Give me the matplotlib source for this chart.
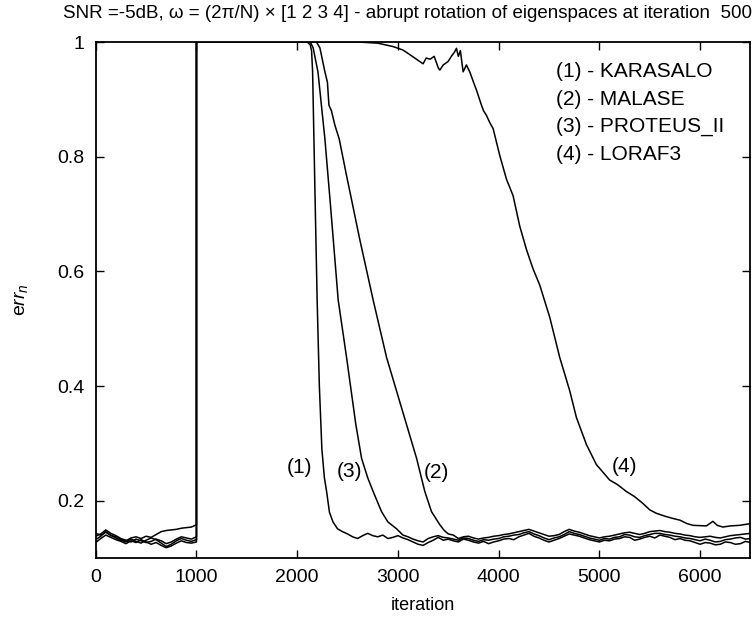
import numpy as np
import matplotlib
matplotlib.use("Agg")
import matplotlib.pyplot as plt

plt.rcParams['font.family'] = ['Liberation Sans', 'DejaVu Sans']
plt.rcParams['mathtext.fontset'] = 'custom'
plt.rcParams['mathtext.rm'] = 'Liberation Sans'
plt.rcParams['mathtext.it'] = 'Liberation Sans:italic'

# ---------------- data ----------------
pre_x = list(range(0, 1001, 50))
c1_pre = [0.132, 0.138, 0.146, 0.140, 0.135, 0.131, 0.128, 0.133, 0.129, 0.126, 0.131,
          0.135, 0.132, 0.126, 0.120, 0.124, 0.130, 0.134, 0.131, 0.129, 0.132]
c2_pre = [0.138, 0.142, 0.149, 0.143, 0.139, 0.134, 0.131, 0.128, 0.133, 0.130, 0.127,
          0.129, 0.133, 0.130, 0.125, 0.128, 0.133, 0.137, 0.135, 0.133, 0.137]
c3_pre = [0.127, 0.134, 0.140, 0.136, 0.132, 0.129, 0.125, 0.130, 0.127, 0.132, 0.128,
          0.124, 0.127, 0.122, 0.118, 0.121, 0.126, 0.130, 0.127, 0.126, 0.128]
c4_pre = [0.143, 0.140, 0.145, 0.139, 0.137, 0.133, 0.130, 0.135, 0.137, 0.134, 0.138,
          0.136, 0.141, 0.146, 0.148, 0.149, 0.150, 0.152, 0.153, 0.154, 0.158]

# (1) KARASALO
c1_mid_x = [1000, 2100, 2130, 2143, 2153, 2175, 2198, 2220, 2245, 2270, 2292, 2320, 2355, 2400]
c1_mid_y = [1.0, 1.0, 0.995, 0.984, 0.948, 0.75, 0.55, 0.40, 0.29, 0.24, 0.216, 0.18, 0.163, 0.151]
c1_post = [0.146, 0.142, 0.137, 0.134, 0.139, 0.143, 0.139, 0.137, 0.140, 0.134, 0.136, 0.139,
           0.135, 0.132, 0.128, 0.124, 0.122, 0.127, 0.131, 0.136, 0.131, 0.133, 0.130, 0.128,
           0.133, 0.131, 0.128, 0.126, 0.129, 0.125, 0.128, 0.130,
           0.133, 0.134, 0.132, 0.137, 0.140, 0.143, 0.138, 0.135, 0.131, 0.128, 0.131, 0.134,
           0.138, 0.142, 0.140, 0.138, 0.135, 0.132, 0.130, 0.128,
           0.131, 0.130, 0.133, 0.134, 0.137, 0.136, 0.131, 0.133, 0.136, 0.138, 0.135, 0.140,
           0.138, 0.136, 0.132, 0.134, 0.131, 0.130, 0.127, 0.124,
           0.127, 0.126, 0.123, 0.124, 0.128, 0.127, 0.124, 0.125, 0.129, 0.127]
c1_post_x = list(range(2450, 2450 + 50 * len(c1_post), 50))

# (2) MALASE
c2_mid_x = [1000, 2190, 2225, 2275, 2300, 2315, 2340, 2374, 2417, 2483, 2622, 2754, 2887,
            3085, 3185, 3267, 3333, 3416, 3460, 3500]
c2_mid_y = [1.0, 1.0, 0.99, 0.948, 0.93, 0.89, 0.88, 0.855, 0.831, 0.773, 0.655, 0.55, 0.45,
            0.333, 0.274, 0.216, 0.181, 0.158, 0.148, 0.142]
c2_post = [0.140, 0.134, 0.137, 0.138, 0.135, 0.133, 0.135, 0.136, 0.138, 0.139,
           0.141, 0.142, 0.144, 0.146, 0.148, 0.150, 0.147, 0.144, 0.141, 0.138,
           0.139, 0.141, 0.146, 0.150, 0.147, 0.145, 0.142, 0.139, 0.137, 0.135,
           0.137, 0.138, 0.140, 0.142, 0.144, 0.145, 0.143, 0.141, 0.143, 0.146,
           0.147, 0.148, 0.146, 0.145, 0.143, 0.142, 0.140, 0.139, 0.137, 0.136,
           0.137, 0.138, 0.136, 0.135, 0.137, 0.139, 0.140, 0.141, 0.142, 0.143]
c2_post_x = list(range(3550, 3550 + 50 * len(c2_post), 50))

# (3) PROTEUS_II
c3_mid_x = [1000, 2130, 2158, 2206, 2275, 2331, 2407, 2490, 2582, 2639, 2700, 2754, 2837,
            2900, 2986, 3050]
c3_mid_y = [1.0, 1.0, 0.99, 0.948, 0.831, 0.714, 0.55, 0.45, 0.333, 0.274, 0.24, 0.216,
            0.181, 0.163, 0.151, 0.140]
c3_post = [0.137, 0.133, 0.130, 0.128, 0.134, 0.137, 0.139, 0.136, 0.135,
           0.133, 0.131, 0.135, 0.134, 0.131, 0.129, 0.132, 0.131, 0.133, 0.134,
           0.137, 0.138, 0.140, 0.141, 0.144, 0.146, 0.142, 0.139, 0.135, 0.132,
           0.135, 0.137, 0.141, 0.146, 0.143, 0.141, 0.138, 0.135, 0.133, 0.131,
           0.134, 0.133, 0.136, 0.137, 0.141, 0.140, 0.137, 0.136, 0.139, 0.141,
           0.143, 0.143, 0.141, 0.140, 0.138, 0.137, 0.135, 0.134, 0.132, 0.130,
           0.133, 0.131, 0.128, 0.129, 0.132, 0.133, 0.135, 0.136, 0.133, 0.134]
c3_post_x = list(range(3100, 3100 + 50 * len(c3_post), 50))

# (4) LORAF3
c4_mid_x = [1000, 2600, 2800, 2953, 3050, 3118, 3200, 3250, 3280, 3320, 3360, 3400, 3416,
            3450, 3498, 3530, 3560, 3581, 3600, 3620, 3647, 3680, 3713, 3750, 3780, 3810,
            3829, 3850, 3879, 3910, 3945, 4011, 4077, 4143, 4209, 4276, 4340, 4408, 4507,
            4606, 4705, 4772, 4871, 4970, 5102, 5180, 5268, 5350, 5433, 5500, 5565, 5650,
            5730, 5800, 5870, 5929, 6062, 6127, 6170, 6226, 6300, 6392, 6500]
c4_mid_y = [1.0, 1.0, 0.998, 0.992, 0.986, 0.978, 0.968, 0.962, 0.972, 0.970, 0.975, 0.955,
            0.951, 0.960, 0.966, 0.975, 0.982, 0.989, 0.975, 0.985, 0.948, 0.960, 0.948,
            0.930, 0.916, 0.900, 0.890, 0.880, 0.872, 0.860, 0.849, 0.802, 0.761, 0.732,
            0.679, 0.638, 0.605, 0.576, 0.520, 0.450, 0.392, 0.345, 0.298, 0.263, 0.236,
            0.228, 0.216, 0.207, 0.195, 0.184, 0.178, 0.173, 0.169, 0.166, 0.160, 0.157,
            0.156, 0.164, 0.157, 0.154, 0.156, 0.157, 0.160]

legend_labels = ['(1) - KARASALO', '(2) - MALASE', '(3) - PROTEUS_II', '(4) - LORAF3']
curve_tags = ['(1)', '(3)', '(2)', '(4)']
tag_x = [2027, 2523, 3386, 5251]
tag_y = [0.258, 0.251, 0.249, 0.260]

x_ticks = [0, 1000, 2000, 3000, 4000, 5000, 6000]
y_ticks = [0.2, 0.4, 0.6, 0.8, 1.0]
y_ticklabels = ['0.2', '0.4', '0.6', '0.8', '1']

# ---------------- plot ----------------
fig = plt.figure(figsize=(7.52, 6.26), dpi=100)
ax = fig.add_axes([0.1273, 0.1086, 0.998 - 0.1273, 0.9329 - 0.1086])

curves = [
    (pre_x + c1_mid_x + c1_post_x, c1_pre + c1_mid_y + c1_post),
    (pre_x + c2_mid_x + c2_post_x, c2_pre + c2_mid_y + c2_post),
    (pre_x + c3_mid_x + c3_post_x, c3_pre + c3_mid_y + c3_post),
    (pre_x + c4_mid_x, c4_pre + c4_mid_y),
]
for xs, ys in curves:
    ax.plot(xs, ys, color='black', lw=1.1)

ax.set_xlim(0, 6500)
ax.set_ylim(0.1, 1.0)
ax.set_xticks(x_ticks)
ax.set_yticks(y_ticks)
ax.set_yticklabels(y_ticklabels)
ax.tick_params(direction='in', top=True, right=True, length=6, width=1,
               labelsize=14, pad=8)
for s in ax.spines.values():
    s.set_linewidth(1.3)

ax.set_xlabel('iteration', fontsize=13, labelpad=8)
ax.set_ylabel('e' + r'$\mathit{rr}_n$', fontsize=14, labelpad=20)

for i, lab in enumerate(legend_labels):
    ax.text(4570, 0.949 - i * 0.0485, lab, fontsize=15, va='center', ha='left')

for t, tx, ty in zip(curve_tags, tag_x, tag_y):
    ax.text(tx, ty, t, fontsize=15, va='center', ha='center')

fig.text(63 / 752, 1 - 13 / 626,
         'SNR =-5dB, \u03c9 = (2\u03c0/N) \u00d7 [1 2 3 4] - abrupt rotation of eigenspaces at iteration  500',
         fontsize=13.5, ha='left', va='center')

fig.savefig('out.png', dpi=100)
